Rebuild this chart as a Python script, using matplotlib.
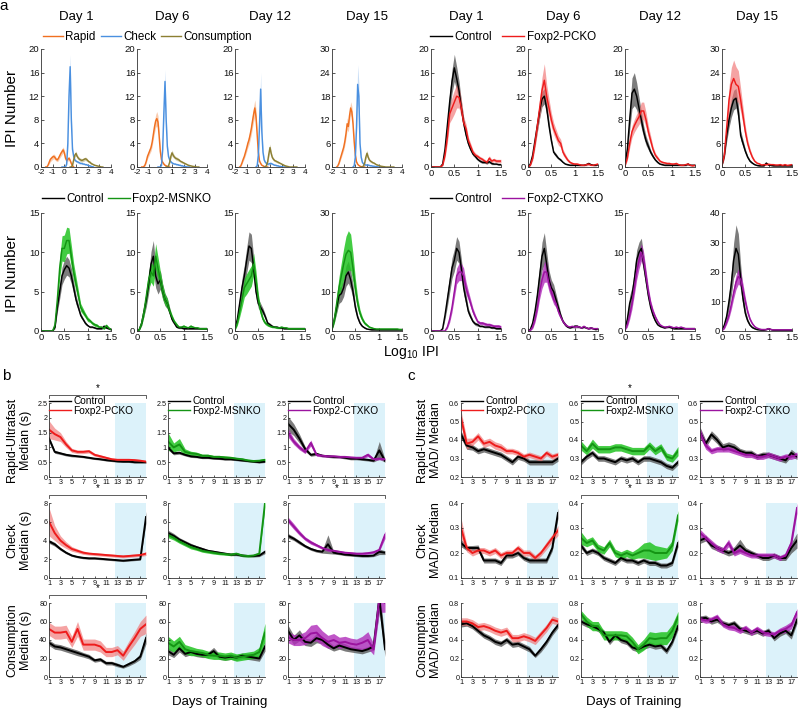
import numpy as np
import matplotlib
matplotlib.use('Agg')
import matplotlib.pyplot as plt
from matplotlib.lines import Line2D
from matplotlib.ticker import FormatStrFormatter

plt.rcParams['font.family'] = ['Liberation Sans', 'DejaVu Sans']
plt.rcParams['mathtext.default'] = 'regular'
plt.rcParams['axes.unicode_minus'] = False

# ====================== DATA ======================
days_a = ['Day 1', 'Day 6', 'Day 12', 'Day 15']
x_rapid = np.round(np.arange(-1.6, 0.81, 0.1), 2)
x_check = np.round(np.arange(-0.2, 2.51, 0.1), 2)
x_cons = np.round(np.arange(0.5, 3.31, 0.1), 2)
x_geno = np.round(np.arange(0, 1.51, 0.05), 2)

# --- Rapid / Check / Consumption IPI distributions ---
rapid_d1 = [0, 0, 0.3, 0.8, 1.3, 1.5, 1.7, 1.8, 1.6, 1.3, 1.2, 1.5, 1.9, 2.3, 2.6, 2.9, 2.4, 1.5, 1.1, 1.3, 1.5, 1.1, 0.6, 0.2, 0]
rapid_d6 = [0, 0, 0.1, 0.4, 1.0, 1.8, 2.3, 2.8, 3.3, 4.2, 5.5, 6.8, 7.8, 8.2, 7.6, 5.2, 2.6, 1.2, 0.8, 0.5, 0.3, 0.2, 0.1, 0, 0]
rapid_d12 = [0, 0.2, 0.7, 1.3, 1.8, 2.5, 3.2, 4.0, 4.6, 5.5, 6.5, 7.8, 9.0, 10.0, 8.5, 5.5, 2.5, 1.0, 0.6, 0.3, 0.2, 0.1, 0, 0, 0]
rapid_d15 = [0, 0.3, 1.0, 2.0, 3.0, 4.0, 5.0, 6.5, 8.5, 11.0, 10.3, 13.0, 15.0, 14.0, 11.0, 6.5, 3.0, 1.3, 0.7, 0.4, 0.2, 0.1, 0, 0, 0]
rapid_d1_sem = [0, 0, 0.1, 0.3, 0.4, 0.4, 0.4, 0.4, 0.4, 0.3, 0.3, 0.4, 0.4, 0.5, 0.5, 0.5, 0.5, 0.4, 0.3, 0.3, 0.3, 0.3, 0.2, 0.1, 0]
rapid_d6_sem = [0, 0, 0.1, 0.2, 0.3, 0.4, 0.5, 0.5, 0.6, 0.7, 0.8, 1.0, 1.1, 1.2, 1.1, 0.9, 0.5, 0.3, 0.2, 0.2, 0.1, 0.1, 0.05, 0, 0]
rapid_d12_sem = [0, 0.1, 0.2, 0.3, 0.4, 0.5, 0.6, 0.7, 0.8, 0.9, 1.0, 1.1, 1.3, 1.4, 1.2, 0.9, 0.5, 0.3, 0.2, 0.1, 0.1, 0.05, 0, 0, 0]
rapid_d15_sem = [0, 0.1, 0.3, 0.5, 0.6, 0.7, 0.8, 1.0, 1.2, 1.5, 1.4, 1.5, 1.6, 1.5, 1.3, 1.0, 0.5, 0.3, 0.2, 0.1, 0.1, 0.05, 0, 0, 0]

check_d1 = [0, 0, 0, 0, 0.5, 4, 12, 17, 8, 3, 1.8, 1.2, 1.0, 0.9, 0.8, 0.7, 0.6, 0.6, 0.5, 0.5, 0.4, 0.4, 0.3, 0.2, 0.2, 0.1, 0.05, 0]
check_d6 = [0, 0, 0, 0.3, 3, 9, 14.5, 8, 3.5, 1.8, 1.2, 0.9, 0.7, 0.6, 0.5, 0.5, 0.4, 0.4, 0.3, 0.3, 0.2, 0.2, 0.1, 0.1, 0.05, 0, 0, 0]
check_d12 = [0, 0.2, 2, 7, 13.2, 6, 2.5, 1.2, 0.8, 0.6, 0.5, 0.5, 0.6, 0.6, 0.5, 0.4, 0.3, 0.3, 0.2, 0.2, 0.1, 0.1, 0.05, 0, 0, 0, 0, 0]
check_d15 = [0, 0.3, 2.5, 10, 21, 18, 6, 2.5, 1.2, 0.8, 0.6, 0.5, 0.5, 0.5, 0.4, 0.3, 0.3, 0.2, 0.2, 0.1, 0.1, 0.05, 0, 0, 0, 0, 0, 0]
check_d1_sem = [0, 0, 0, 0, 0.2, 0.8, 1.5, 2.0, 1.2, 0.5, 0.3, 0.2, 0.2, 0.2, 0.2, 0.2, 0.1, 0.1, 0.1, 0.1, 0.1, 0.1, 0.1, 0.1, 0.05, 0.05, 0, 0]
check_d6_sem = [0, 0, 0, 0.1, 0.6, 1.2, 2.0, 1.2, 0.6, 0.3, 0.2, 0.2, 0.1, 0.1, 0.1, 0.1, 0.1, 0.1, 0.1, 0.1, 0.05, 0.05, 0.05, 0, 0, 0, 0, 0]
check_d12_sem = [0, 0.1, 0.5, 1.5, 2.8, 1.2, 0.5, 0.3, 0.2, 0.2, 0.2, 0.2, 0.2, 0.2, 0.1, 0.1, 0.1, 0.1, 0.05, 0.05, 0.05, 0, 0, 0, 0, 0, 0, 0]
check_d15_sem = [0, 0.1, 0.6, 2.0, 5.0, 3.5, 1.2, 0.5, 0.3, 0.2, 0.2, 0.2, 0.2, 0.2, 0.1, 0.1, 0.1, 0.05, 0.05, 0, 0, 0, 0, 0, 0, 0, 0, 0]

cons_d1 = [0, 0, 0.3, 1.2, 2.0, 2.3, 1.8, 1.5, 1.3, 1.2, 1.1, 1.2, 1.3, 1.4, 1.3, 1.1, 0.9, 0.8, 0.6, 0.5, 0.4, 0.3, 0.25, 0.2, 0.15, 0.1, 0.05, 0, 0]
cons_d6 = [0, 0, 0.2, 0.8, 1.8, 2.4, 2.0, 1.7, 1.5, 1.4, 1.3, 1.2, 1.0, 0.9, 0.8, 0.7, 0.6, 0.5, 0.4, 0.3, 0.25, 0.2, 0.15, 0.1, 0.08, 0.05, 0, 0, 0]
cons_d12 = [0, 0, 0.3, 0.9, 2.2, 3.3, 2.3, 1.6, 1.3, 1.1, 1.0, 0.9, 0.8, 0.7, 0.6, 0.5, 0.4, 0.3, 0.2, 0.15, 0.1, 0.05, 0, 0, 0, 0, 0, 0, 0]
cons_d15 = [0, 0, 0.3, 1.0, 2.5, 3.5, 2.5, 1.8, 1.5, 1.3, 1.1, 1.0, 0.8, 0.6, 0.5, 0.4, 0.3, 0.2, 0.15, 0.1, 0.05, 0, 0, 0, 0, 0, 0, 0, 0]
cons_d1_sem = [0, 0, 0.1, 0.3, 0.4, 0.4, 0.3, 0.3, 0.3, 0.3, 0.3, 0.3, 0.3, 0.3, 0.3, 0.2, 0.2, 0.2, 0.2, 0.1, 0.1, 0.1, 0.1, 0.1, 0.05, 0.05, 0, 0, 0]
cons_d6_sem = [0, 0, 0.1, 0.2, 0.4, 0.5, 0.4, 0.3, 0.3, 0.3, 0.3, 0.2, 0.2, 0.2, 0.2, 0.1, 0.1, 0.1, 0.1, 0.1, 0.05, 0.05, 0.05, 0, 0, 0, 0, 0, 0]
cons_d12_sem = [0, 0, 0.1, 0.3, 0.5, 0.6, 0.4, 0.3, 0.3, 0.2, 0.2, 0.2, 0.2, 0.1, 0.1, 0.1, 0.1, 0.1, 0.05, 0.05, 0, 0, 0, 0, 0, 0, 0, 0, 0]
cons_d15_sem = [0, 0, 0.1, 0.3, 0.6, 0.8, 0.5, 0.4, 0.3, 0.3, 0.2, 0.2, 0.2, 0.1, 0.1, 0.1, 0.1, 0.05, 0.05, 0, 0, 0, 0, 0, 0, 0, 0, 0, 0]

# --- Control vs Foxp2-PCKO ---
pc_ctrl_d1 = [0, 0, 0, 0, 0, 0.5, 3, 7, 11, 14.5, 16.8, 15, 13, 10, 7.5, 5.5, 4, 3, 2.2, 1.8, 1.3, 1.0, 0.8, 0.8, 0.7, 0.9, 0.6, 0.5, 0.5, 0.4, 0.4]
pc_ctrl_d1_sem = [0, 0, 0, 0, 0, 0.2, 0.6, 1.2, 1.6, 2.0, 2.3, 2.0, 1.6, 1.2, 0.9, 0.7, 0.5, 0.4, 0.3, 0.3, 0.2, 0.2, 0.2, 0.2, 0.2, 0.2, 0.2, 0.1, 0.1, 0.1, 0.1]
pc_ko_d1 = [0, 0, 0, 0, 0, 0.3, 2, 5, 9, 10, 11, 12, 11.8, 10, 7.5, 6.5, 4.5, 3.5, 2.5, 2, 1.8, 1.5, 1.3, 1.0, 0.8, 1.5, 1.0, 1.2, 1.0, 1.0, 1.0]
pc_ko_d1_sem = [0, 0, 0, 0, 0, 0.1, 0.5, 1.0, 1.5, 1.8, 2.0, 2.0, 1.8, 1.5, 1.0, 0.8, 0.6, 0.5, 0.4, 0.4, 0.3, 0.3, 0.3, 0.3, 0.3, 0.4, 0.3, 0.3, 0.3, 0.3, 0.3]
pc_ctrl_d6 = [0, 0.5, 2, 4.5, 7, 9.5, 11.5, 12, 10, 7, 4.5, 2.5, 2, 1.5, 1.2, 0.8, 0.5, 0.4, 0.3, 0.3, 0.3, 0.3, 0.3, 0.3, 0.3, 0.4, 0.6, 0.4, 0.3, 0.3, 0.4]
pc_ctrl_d6_sem = [0, 0.2, 0.5, 0.8, 1.0, 1.2, 1.3, 1.3, 1.1, 0.8, 0.5, 0.3, 0.3, 0.2, 0.2, 0.1, 0.1, 0.1, 0.1, 0.1, 0.1, 0.1, 0.1, 0.1, 0.1, 0.1, 0.2, 0.1, 0.1, 0.1, 0.1]
pc_ko_d6 = [0, 0.3, 1.5, 4, 7, 10, 13, 14.7, 12, 10, 8, 6.5, 5.5, 4.5, 4, 2.5, 1.8, 1.2, 0.8, 0.6, 0.5, 0.5, 0.4, 0.3, 0.3, 0.4, 0.5, 0.3, 0.3, 0.4, 0.5]
pc_ko_d6_sem = [0, 0.1, 0.4, 0.8, 1.2, 1.6, 2.2, 2.8, 2.0, 1.5, 1.2, 1.0, 0.9, 0.8, 0.7, 0.5, 0.4, 0.3, 0.2, 0.2, 0.2, 0.2, 0.2, 0.1, 0.1, 0.2, 0.2, 0.1, 0.1, 0.2, 0.2]
pc_ctrl_d12 = [0.5, 3, 8, 12.5, 13.2, 12, 10, 8, 6, 4.5, 3.5, 2.5, 1.8, 1.2, 0.8, 0.5, 0.4, 0.3, 0.3, 0.3, 0.3, 0.3, 0.3, 0.3, 0.3, 0.3, 0.3, 0.5, 0.3, 0.3, 0.3]
pc_ctrl_d12_sem = [0.2, 0.8, 1.8, 2.6, 2.8, 2.3, 1.8, 1.4, 1.0, 0.8, 0.6, 0.4, 0.3, 0.2, 0.2, 0.1, 0.1, 0.1, 0.1, 0.1, 0.1, 0.1, 0.1, 0.1, 0.1, 0.1, 0.1, 0.2, 0.1, 0.1, 0.1]
pc_ko_d12 = [0.2, 1.5, 4, 6, 7, 7.8, 8.5, 9.5, 9.5, 8, 6, 4.5, 3, 2, 1.5, 1.0, 0.8, 0.7, 0.6, 0.6, 0.5, 0.5, 0.6, 0.4, 0.3, 0.3, 0.4, 0.5, 0.3, 0.2, 0.3]
pc_ko_d12_sem = [0.1, 0.4, 0.8, 1.0, 1.1, 1.2, 1.3, 1.5, 1.5, 1.3, 1.0, 0.8, 0.5, 0.4, 0.3, 0.2, 0.2, 0.2, 0.2, 0.2, 0.2, 0.2, 0.2, 0.1, 0.1, 0.1, 0.1, 0.2, 0.1, 0.1, 0.1]
pc_ctrl_d15 = [0.5, 3, 8, 12, 15, 17, 17.5, 14, 8, 6, 4, 2.5, 1.5, 1, 0.6, 0.4, 0.3, 0.3, 0.3, 1.0, 0.5, 0.4, 0.3, 0.3, 0.3, 0.3, 0.3, 0.3, 0.3, 0.3, 0.3]
pc_ctrl_d15_sem = [0.2, 0.8, 1.5, 2.0, 2.3, 2.5, 2.5, 2.0, 1.2, 0.9, 0.6, 0.4, 0.3, 0.2, 0.1, 0.1, 0.1, 0.1, 0.1, 0.2, 0.1, 0.1, 0.1, 0.1, 0.1, 0.1, 0.1, 0.1, 0.1, 0.1, 0.1]
pc_ko_d15 = [0.5, 3, 10, 17, 21, 22.5, 21, 20.5, 17, 13, 9, 6, 4, 2.5, 1.5, 1, 0.8, 0.5, 0.6, 0.6, 0.7, 0.6, 0.6, 0.5, 0.5, 0.6, 0.4, 0.6, 0.4, 0.5, 0.6]
pc_ko_d15_sem = [0.2, 0.8, 2.0, 3.5, 4.3, 4.7, 4.5, 4.0, 3.0, 2.2, 1.5, 1.0, 0.7, 0.5, 0.3, 0.2, 0.2, 0.2, 0.2, 0.2, 0.2, 0.2, 0.2, 0.2, 0.2, 0.2, 0.2, 0.2, 0.2, 0.2, 0.2]

# --- Control vs Foxp2-MSNKO ---
ms_ctrl_d1 = [0, 0, 0, 0, 0, 0, 0.5, 3, 5, 7, 7.8, 8.3, 8, 7, 5.5, 4, 3, 2, 1.5, 1.0, 0.7, 0.5, 0.5, 0.4, 0.3, 0.3, 0.3, 0.6, 0.4, 0.3, 0.2]
ms_ctrl_d1_sem = [0, 0, 0, 0, 0, 0, 0.2, 0.6, 0.9, 1.1, 1.2, 1.2, 1.1, 1.0, 0.8, 0.6, 0.4, 0.3, 0.2, 0.2, 0.1, 0.1, 0.1, 0.1, 0.1, 0.1, 0.1, 0.2, 0.1, 0.1, 0.1]
ms_ko_d1 = [0, 0, 0, 0, 0, 0, 0.8, 4, 8, 10.5, 10.5, 11.5, 11.5, 9.5, 7.5, 6, 4.5, 3, 2.5, 2, 1.5, 1.3, 1.0, 0.8, 0.7, 0.5, 0.5, 0.3, 0.7, 0.4, 0.2]
ms_ko_d1_sem = [0, 0, 0, 0, 0, 0, 0.3, 0.8, 1.3, 1.6, 1.7, 1.7, 1.6, 1.4, 1.1, 0.9, 0.7, 0.5, 0.4, 0.3, 0.3, 0.2, 0.2, 0.2, 0.2, 0.1, 0.1, 0.1, 0.2, 0.1, 0.1]
ms_ctrl_d6 = [0, 0.2, 1, 2.5, 4, 6, 8.5, 9.5, 7, 6, 6.5, 5, 4, 3.5, 2.5, 1.5, 1.0, 0.5, 0.4, 0.4, 0.3, 0.3, 0.3, 0.3, 0.3, 0.3, 0.3, 0.3, 0.3, 0.3, 0.3]
ms_ctrl_d6_sem = [0, 0.1, 0.3, 0.6, 0.9, 1.2, 1.6, 2.0, 1.5, 1.3, 1.2, 1.0, 0.8, 0.7, 0.5, 0.3, 0.2, 0.1, 0.1, 0.1, 0.1, 0.1, 0.1, 0.1, 0.1, 0.1, 0.1, 0.1, 0.1, 0.1, 0.1]
ms_ko_d6 = [0, 0.2, 1, 2.5, 4.5, 6.5, 7.5, 7, 9.5, 8, 6.5, 5, 4, 3.5, 2.5, 1.8, 1.2, 0.8, 0.5, 0.5, 0.6, 0.5, 0.4, 0.6, 0.5, 0.4, 0.4, 0.3, 0.3, 0.3, 0.3]
ms_ko_d6_sem = [0, 0.1, 0.3, 0.6, 0.9, 1.1, 1.3, 1.3, 1.6, 1.4, 1.1, 0.9, 0.7, 0.6, 0.4, 0.3, 0.2, 0.2, 0.1, 0.1, 0.2, 0.1, 0.1, 0.2, 0.1, 0.1, 0.1, 0.1, 0.1, 0.1, 0.1]
ms_ctrl_d12 = [0.3, 1.5, 3.5, 5.5, 7, 9, 10.8, 10.5, 8, 5, 3.5, 3, 2.5, 1.8, 1.0, 0.8, 0.6, 0.5, 0.5, 0.4, 0.4, 0.3, 0.3, 0.3, 0.3, 0.3, 0.3, 0.3, 0.3, 0.3, 0.3]
ms_ctrl_d12_sem = [0.1, 0.5, 0.9, 1.2, 1.4, 1.6, 1.8, 1.8, 1.4, 0.9, 0.6, 0.5, 0.4, 0.3, 0.2, 0.2, 0.1, 0.1, 0.1, 0.1, 0.1, 0.1, 0.1, 0.1, 0.1, 0.1, 0.1, 0.1, 0.1, 0.1, 0.1]
ms_ko_d12 = [0.2, 1, 2.5, 4, 5.5, 6, 6.5, 7, 8.5, 6.5, 4, 2.5, 1.5, 1.0, 0.8, 0.6, 0.5, 0.5, 0.4, 0.4, 0.5, 0.4, 0.4, 0.3, 0.3, 0.3, 0.3, 0.3, 0.3, 0.3, 0.3]
ms_ko_d12_sem = [0.1, 0.3, 0.7, 1.0, 1.2, 1.3, 1.3, 1.3, 1.4, 1.1, 0.7, 0.5, 0.3, 0.2, 0.2, 0.1, 0.1, 0.1, 0.1, 0.1, 0.1, 0.1, 0.1, 0.1, 0.1, 0.1, 0.1, 0.1, 0.1, 0.1, 0.1]
ms_ctrl_d15 = [0.5, 3, 6, 9, 9.5, 11, 14, 15, 13, 10, 6, 3.5, 2, 1.2, 0.8, 0.5, 0.4, 0.3, 0.3, 0.3, 0.3, 0.3, 0.3, 0.3, 0.3, 0.3, 0.3, 0.3, 0.3, 0.3, 0.3]
ms_ctrl_d15_sem = [0.2, 0.8, 1.5, 2.0, 2.0, 2.2, 2.6, 2.8, 2.4, 1.8, 1.1, 0.6, 0.4, 0.2, 0.2, 0.1, 0.1, 0.1, 0.1, 0.1, 0.1, 0.1, 0.1, 0.1, 0.1, 0.1, 0.1, 0.1, 0.1, 0.1, 0.1]
ms_ko_d15 = [0.5, 3, 7, 11, 14, 17, 19.5, 20.5, 20, 16, 11, 7, 4.5, 3, 2, 1.5, 1.0, 0.8, 0.6, 0.5, 0.5, 0.5, 0.5, 0.5, 0.5, 0.5, 0.5, 0.5, 0.5, 0.4, 0.4]
ms_ko_d15_sem = [0.2, 1.0, 2.0, 2.8, 3.4, 4.0, 4.6, 5.0, 4.6, 3.6, 2.4, 1.5, 0.9, 0.6, 0.4, 0.3, 0.2, 0.2, 0.2, 0.2, 0.2, 0.2, 0.2, 0.2, 0.2, 0.2, 0.2, 0.2, 0.2, 0.1, 0.1]

# --- Control vs Foxp2-CTXKO ---
cx_ctrl_d1 = [0, 0, 0, 0, 0, 0.3, 2, 4, 6, 8, 9, 10.5, 10, 8, 5.5, 4, 2.5, 1.8, 1.2, 0.9, 0.8, 0.6, 0.6, 0.5, 0.5, 0.5, 0.4, 0.4, 0.3, 0.3, 0.3]
cx_ctrl_d1_sem = [0, 0, 0, 0, 0, 0.1, 0.5, 0.9, 1.1, 1.3, 1.4, 1.5, 1.4, 1.2, 0.9, 0.7, 0.4, 0.3, 0.2, 0.2, 0.2, 0.1, 0.1, 0.1, 0.1, 0.1, 0.1, 0.1, 0.1, 0.1, 0.1]
cx_ko_d1 = [0, 0, 0, 0, 0, 0, 0, 0.5, 1.5, 3, 5, 7, 7.5, 7.5, 7, 5.5, 4.5, 3.5, 2.5, 1.8, 1.2, 1.0, 1.0, 0.9, 0.8, 0.8, 0.7, 0.6, 0.6, 0.6, 0.5]
cx_ko_d1_sem = [0, 0, 0, 0, 0, 0, 0, 0.2, 0.4, 0.6, 0.8, 1.0, 1.1, 1.1, 1.0, 0.8, 0.6, 0.5, 0.4, 0.3, 0.2, 0.2, 0.2, 0.2, 0.2, 0.2, 0.2, 0.2, 0.2, 0.2, 0.2]
cx_ctrl_d6 = [0, 0.2, 1, 2.5, 4.5, 7, 9.5, 10.5, 8.5, 6.5, 5.5, 5, 4, 3, 2, 1.2, 0.8, 0.5, 0.4, 0.5, 0.6, 0.6, 0.5, 0.4, 0.5, 0.4, 0.3, 0.4, 0.3, 0.2, 0.3]
cx_ctrl_d6_sem = [0, 0.1, 0.3, 0.6, 1.0, 1.4, 1.8, 2.0, 1.6, 1.2, 1.0, 0.9, 0.7, 0.5, 0.3, 0.2, 0.2, 0.1, 0.1, 0.1, 0.2, 0.2, 0.1, 0.1, 0.1, 0.1, 0.1, 0.1, 0.1, 0.1, 0.1]
cx_ko_d6 = [0, 0.1, 0.5, 1.5, 3, 5, 6.5, 7.5, 7.5, 6, 5, 4, 3.5, 2.5, 1.8, 1.2, 0.8, 0.6, 0.5, 0.6, 0.5, 0.6, 0.5, 0.4, 0.6, 0.4, 0.3, 0.4, 0.3, 0.3, 0.3]
cx_ko_d6_sem = [0, 0.05, 0.2, 0.4, 0.6, 0.9, 1.1, 1.3, 1.3, 1.0, 0.8, 0.6, 0.5, 0.4, 0.3, 0.2, 0.2, 0.1, 0.1, 0.1, 0.1, 0.1, 0.1, 0.1, 0.1, 0.1, 0.1, 0.1, 0.1, 0.1, 0.1]
cx_ctrl_d12 = [0.2, 1.5, 3.5, 4.5, 6.5, 9, 10, 10.5, 8.5, 6.5, 4.5, 3, 2, 1.3, 0.8, 0.6, 0.5, 0.4, 0.5, 0.5, 0.4, 0.3, 0.3, 0.3, 0.3, 0.3, 0.3, 0.3, 0.3, 0.3, 0.3]
cx_ctrl_d12_sem = [0.1, 0.6, 1.0, 1.1, 1.2, 1.3, 1.3, 1.3, 1.1, 0.9, 0.6, 0.4, 0.3, 0.2, 0.1, 0.1, 0.1, 0.1, 0.1, 0.1, 0.1, 0.1, 0.1, 0.1, 0.1, 0.1, 0.1, 0.1, 0.1, 0.1, 0.1]
cx_ko_d12 = [0.2, 0.8, 2, 3.5, 5.5, 7.5, 9, 10, 9, 7, 5, 3.5, 2.5, 1.8, 1.2, 0.8, 0.6, 0.5, 0.5, 0.6, 0.5, 0.4, 0.5, 0.4, 0.5, 0.4, 0.3, 0.3, 0.3, 0.3, 0.3]
cx_ko_d12_sem = [0.1, 0.3, 0.5, 0.7, 0.9, 1.0, 1.1, 1.1, 1.0, 0.8, 0.6, 0.4, 0.3, 0.2, 0.2, 0.1, 0.1, 0.1, 0.1, 0.1, 0.1, 0.1, 0.1, 0.1, 0.1, 0.1, 0.1, 0.1, 0.1, 0.1, 0.1]
cx_ctrl_d15 = [0.3, 2, 5, 10, 16, 24, 28, 26, 18, 11, 6, 3.5, 2, 1.2, 0.8, 0.5, 0.4, 0.3, 0.3, 0.5, 0.8, 0.5, 0.3, 0.3, 0.3, 0.3, 0.3, 0.3, 0.3, 0.3, 0.3]
cx_ctrl_d15_sem = [0.1, 0.7, 1.5, 2.5, 4, 6, 8, 7, 4.5, 2.5, 1.3, 0.7, 0.4, 0.3, 0.2, 0.1, 0.1, 0.1, 0.1, 0.1, 0.2, 0.1, 0.1, 0.1, 0.1, 0.1, 0.1, 0.1, 0.1, 0.1, 0.1]
cx_ko_d15 = [0.2, 1, 3, 5.5, 9, 13, 16.5, 18.5, 17.5, 14, 10, 6.5, 4, 2.5, 1.5, 1, 0.7, 0.5, 0.5, 0.5, 0.8, 0.5, 0.4, 0.4, 0.4, 0.4, 0.4, 0.4, 0.4, 0.4, 0.4]
cx_ko_d15_sem = [0.1, 0.3, 0.7, 1.1, 1.6, 2.0, 2.4, 2.6, 2.4, 2.0, 1.4, 0.9, 0.6, 0.4, 0.3, 0.2, 0.1, 0.1, 0.1, 0.1, 0.2, 0.1, 0.1, 0.1, 0.1, 0.1, 0.1, 0.1, 0.1, 0.1, 0.1]

# --- Panel b: medians over days of training ---
days = list(range(1, 19))
b_rapid_pc_ctrl = [1.3, 0.85, 0.8, 0.75, 0.72, 0.7, 0.68, 0.65, 0.62, 0.6, 0.57, 0.55, 0.53, 0.52, 0.52, 0.5, 0.5, 0.5]
b_rapid_pc_ctrl_sem = [0.08, 0.05, 0.04, 0.04, 0.04, 0.03, 0.03, 0.03, 0.03, 0.03, 0.03, 0.03, 0.03, 0.03, 0.03, 0.03, 0.03, 0.03]
b_rapid_pc_ko = [1.6, 1.45, 1.35, 1.1, 0.9, 0.85, 0.85, 0.87, 0.75, 0.7, 0.65, 0.6, 0.58, 0.58, 0.58, 0.57, 0.55, 0.52]
b_rapid_pc_ko_sem = [0.3, 0.2, 0.15, 0.1, 0.07, 0.06, 0.06, 0.06, 0.05, 0.05, 0.04, 0.04, 0.04, 0.04, 0.04, 0.04, 0.04, 0.04]
b_rapid_ms_ctrl = [1.0, 0.8, 0.82, 0.75, 0.7, 0.68, 0.65, 0.65, 0.63, 0.62, 0.6, 0.6, 0.58, 0.56, 0.54, 0.52, 0.5, 0.52]
b_rapid_ms_ctrl_sem = [0.08, 0.05, 0.05, 0.04, 0.04, 0.03, 0.03, 0.03, 0.03, 0.03, 0.03, 0.03, 0.03, 0.03, 0.03, 0.03, 0.03, 0.03]
b_rapid_ms_ko = [1.2, 1.0, 1.1, 0.85, 0.8, 0.78, 0.72, 0.72, 0.68, 0.68, 0.66, 0.65, 0.62, 0.6, 0.56, 0.54, 0.55, 0.58]
b_rapid_ms_ko_sem = [0.3, 0.15, 0.2, 0.1, 0.07, 0.06, 0.05, 0.05, 0.05, 0.05, 0.05, 0.04, 0.04, 0.04, 0.04, 0.04, 0.04, 0.05]
b_rapid_cx_ctrl = [1.8, 1.6, 1.3, 0.95, 0.75, 0.78, 0.72, 0.7, 0.68, 0.68, 0.65, 0.62, 0.62, 0.6, 0.58, 0.55, 0.9, 0.55]
b_rapid_cx_ctrl_sem = [0.25, 0.2, 0.15, 0.08, 0.05, 0.05, 0.04, 0.04, 0.04, 0.04, 0.04, 0.04, 0.04, 0.04, 0.04, 0.04, 0.3, 0.05]
b_rapid_cx_ko = [1.5, 1.2, 1.0, 0.85, 1.15, 0.75, 0.72, 0.7, 0.7, 0.68, 0.68, 0.66, 0.65, 0.65, 0.75, 0.6, 0.62, 0.6]
b_rapid_cx_ko_sem = [0.15, 0.1, 0.08, 0.06, 0.1, 0.05, 0.04, 0.04, 0.04, 0.04, 0.04, 0.04, 0.04, 0.04, 0.06, 0.04, 0.04, 0.04]

b_check_pc_ctrl = [3.9, 3.6, 3.1, 2.7, 2.4, 2.25, 2.15, 2.1, 2.1, 2.05, 2.0, 1.95, 1.9, 1.85, 1.9, 1.95, 2.0, 6.5]
b_check_pc_ctrl_sem = [0.2, 0.2, 0.15, 0.12, 0.1, 0.1, 0.1, 0.1, 0.1, 0.1, 0.1, 0.1, 0.1, 0.1, 0.1, 0.1, 0.1, 0.6]
b_check_pc_ko = [6.0, 4.8, 4.0, 3.5, 3.1, 2.9, 2.7, 2.6, 2.55, 2.5, 2.45, 2.4, 2.35, 2.3, 2.35, 2.4, 2.45, 2.6]
b_check_pc_ko_sem = [1.5, 0.8, 0.5, 0.35, 0.25, 0.2, 0.18, 0.15, 0.15, 0.15, 0.15, 0.15, 0.15, 0.15, 0.15, 0.15, 0.15, 0.2]
b_check_ms_ctrl = [4.8, 4.5, 4.1, 3.8, 3.5, 3.3, 3.1, 2.9, 2.8, 2.7, 2.6, 2.5, 2.5, 2.4, 2.35, 2.35, 2.4, 2.8]
b_check_ms_ctrl_sem = [0.3, 0.25, 0.2, 0.2, 0.2, 0.15, 0.15, 0.15, 0.15, 0.12, 0.12, 0.12, 0.12, 0.12, 0.12, 0.12, 0.12, 0.2]
b_check_ms_ko = [4.6, 4.3, 3.9, 3.6, 3.3, 3.1, 2.9, 2.8, 2.7, 2.6, 2.55, 2.5, 2.6, 2.4, 2.35, 2.4, 2.6, 8.0]
b_check_ms_ko_sem = [0.3, 0.25, 0.2, 0.2, 0.2, 0.15, 0.15, 0.15, 0.15, 0.12, 0.12, 0.12, 0.12, 0.12, 0.12, 0.12, 0.15, 0.4]
b_check_cx_ctrl = [4.5, 4.2, 3.8, 3.4, 3.1, 2.9, 2.8, 3.6, 2.7, 2.6, 2.5, 2.45, 2.4, 2.35, 2.35, 2.4, 2.8, 2.7]
b_check_cx_ctrl_sem = [0.25, 0.2, 0.2, 0.15, 0.15, 0.15, 0.15, 1.0, 0.15, 0.12, 0.12, 0.12, 0.12, 0.12, 0.12, 0.12, 0.3, 0.2]
b_check_cx_ko = [6.2, 5.5, 4.8, 4.2, 3.8, 3.5, 3.2, 3.0, 2.9, 2.8, 2.7, 2.65, 2.6, 2.6, 2.65, 2.75, 3.0, 4.6]
b_check_cx_ko_sem = [0.3, 0.3, 0.25, 0.2, 0.2, 0.15, 0.15, 0.15, 0.15, 0.12, 0.12, 0.12, 0.12, 0.12, 0.12, 0.12, 0.15, 0.4]

b_cons_pc_ctrl = [37, 33, 32, 30, 28, 26, 24, 22, 18, 19, 15, 15, 13, 11, 14, 17, 22, 42]
b_cons_pc_ctrl_sem = [3, 3, 3, 3, 3, 3, 2.5, 2.5, 2, 2, 2, 2, 2, 1.5, 2, 2, 3, 6]
b_cons_pc_ko = [52, 48, 48, 49, 38, 52, 35, 35, 35, 33, 27, 27, 29, 23, 33, 42, 52, 57]
b_cons_pc_ko_sem = [7, 7, 7, 7, 6, 8, 6, 6, 6, 6, 5, 5, 5, 5, 6, 7, 8, 10]
b_cons_ms_ctrl = [28, 24, 31, 25, 27, 25, 24, 24, 28, 22, 21, 22, 21, 23, 22, 21, 20, 33]
b_cons_ms_ctrl_sem = [4, 3, 4, 3, 3, 3, 3, 3, 4, 3, 3, 3, 3, 3, 3, 3, 3, 5]
b_cons_ms_ko = [37, 33, 38, 30, 28, 27, 26, 24, 23, 23, 22, 23, 21, 22, 23, 24, 27, 48]
b_cons_ms_ko_sem = [7, 6, 6, 5, 5, 4, 4, 4, 4, 4, 4, 4, 4, 4, 4, 4, 5, 10]
b_cons_cx_ctrl = [50, 40, 45, 38, 37, 42, 40, 35, 31, 34, 32, 30, 29, 28, 30, 33, 85, 30]
b_cons_cx_ctrl_sem = [6, 5, 6, 4, 4, 5, 4, 4, 3, 4, 4, 3, 3, 3, 3, 4, 15, 8]
b_cons_cx_ko = [43, 40, 40, 42, 47, 48, 42, 38, 40, 37, 38, 36, 35, 37, 40, 30, 85, 80]
b_cons_cx_ko_sem = [6, 6, 6, 7, 9, 9, 8, 7, 7, 6, 6, 6, 6, 7, 9, 6, 15, 10]

# --- Panel c: MAD / median over days of training ---
c_rapid_pc_ctrl = [0.43, 0.37, 0.36, 0.34, 0.35, 0.34, 0.33, 0.32, 0.3, 0.28, 0.31, 0.3, 0.28, 0.28, 0.28, 0.28, 0.28, 0.3]
c_rapid_pc_ctrl_sem = [0.02, 0.02, 0.015, 0.015, 0.015, 0.015, 0.015, 0.015, 0.015, 0.015, 0.015, 0.015, 0.015, 0.015, 0.015, 0.015, 0.015, 0.015]
c_rapid_pc_ko = [0.52, 0.38, 0.39, 0.42, 0.38, 0.39, 0.37, 0.36, 0.34, 0.34, 0.33, 0.31, 0.32, 0.31, 0.3, 0.33, 0.31, 0.32]
c_rapid_pc_ko_sem = [0.04, 0.03, 0.02, 0.02, 0.02, 0.02, 0.02, 0.02, 0.015, 0.015, 0.015, 0.015, 0.015, 0.015, 0.015, 0.015, 0.015, 0.015]
c_rapid_ms_ctrl = [0.28, 0.31, 0.33, 0.3, 0.3, 0.29, 0.28, 0.3, 0.29, 0.3, 0.28, 0.3, 0.3, 0.29, 0.28, 0.26, 0.25, 0.28]
c_rapid_ms_ctrl_sem = [0.015, 0.015, 0.015, 0.015, 0.015, 0.015, 0.015, 0.015, 0.015, 0.015, 0.015, 0.015, 0.015, 0.015, 0.015, 0.015, 0.015, 0.015]
c_rapid_ms_ko = [0.37, 0.34, 0.38, 0.35, 0.35, 0.35, 0.36, 0.36, 0.35, 0.34, 0.34, 0.34, 0.37, 0.34, 0.36, 0.31, 0.3, 0.34]
c_rapid_ms_ko_sem = [0.025, 0.02, 0.025, 0.02, 0.02, 0.02, 0.02, 0.02, 0.02, 0.02, 0.02, 0.02, 0.02, 0.02, 0.02, 0.02, 0.02, 0.025]
c_rapid_cx_ctrl = [0.44, 0.38, 0.43, 0.4, 0.36, 0.37, 0.36, 0.34, 0.33, 0.33, 0.31, 0.32, 0.32, 0.31, 0.3, 0.29, 0.33, 0.31]
c_rapid_cx_ctrl_sem = [0.03, 0.02, 0.02, 0.02, 0.02, 0.02, 0.02, 0.015, 0.015, 0.015, 0.015, 0.015, 0.015, 0.015, 0.015, 0.015, 0.02, 0.015]
c_rapid_cx_ko = [0.44, 0.37, 0.34, 0.35, 0.35, 0.35, 0.34, 0.33, 0.32, 0.32, 0.31, 0.31, 0.32, 0.31, 0.3, 0.31, 0.31, 0.32]
c_rapid_cx_ko_sem = [0.025, 0.02, 0.015, 0.015, 0.015, 0.015, 0.015, 0.015, 0.015, 0.015, 0.015, 0.015, 0.015, 0.015, 0.015, 0.015, 0.015, 0.015]

c_check_pc_ctrl = [0.24, 0.22, 0.22, 0.22, 0.17, 0.17, 0.17, 0.16, 0.19, 0.19, 0.2, 0.18, 0.17, 0.17, 0.17, 0.17, 0.22, 0.36]
c_check_pc_ctrl_sem = [0.015, 0.01, 0.01, 0.012, 0.01, 0.01, 0.01, 0.01, 0.01, 0.01, 0.01, 0.01, 0.01, 0.01, 0.01, 0.01, 0.012, 0.02]
c_check_pc_ko = [0.3, 0.22, 0.2, 0.21, 0.21, 0.2, 0.21, 0.19, 0.2, 0.2, 0.22, 0.2, 0.2, 0.18, 0.2, 0.23, 0.26, 0.29]
c_check_pc_ko_sem = [0.04, 0.015, 0.012, 0.012, 0.012, 0.012, 0.012, 0.012, 0.012, 0.012, 0.012, 0.012, 0.012, 0.012, 0.012, 0.015, 0.015, 0.02]
c_check_ms_ctrl = [0.23, 0.2, 0.21, 0.2, 0.18, 0.17, 0.16, 0.18, 0.17, 0.17, 0.16, 0.17, 0.16, 0.16, 0.15, 0.15, 0.16, 0.24]
c_check_ms_ctrl_sem = [0.012, 0.01, 0.01, 0.01, 0.01, 0.01, 0.01, 0.01, 0.01, 0.01, 0.01, 0.01, 0.01, 0.01, 0.01, 0.01, 0.01, 0.015]
c_check_ms_ko = [0.26, 0.24, 0.25, 0.22, 0.21, 0.24, 0.2, 0.19, 0.2, 0.19, 0.2, 0.21, 0.21, 0.2, 0.2, 0.2, 0.23, 0.35]
c_check_ms_ko_sem = [0.025, 0.015, 0.015, 0.015, 0.015, 0.015, 0.015, 0.015, 0.015, 0.015, 0.02, 0.03, 0.035, 0.03, 0.025, 0.02, 0.02, 0.02]
c_check_cx_ctrl = [0.25, 0.26, 0.23, 0.22, 0.21, 0.2, 0.21, 0.23, 0.21, 0.2, 0.19, 0.18, 0.18, 0.19, 0.18, 0.18, 0.22, 0.25]
c_check_cx_ctrl_sem = [0.012, 0.012, 0.012, 0.012, 0.012, 0.012, 0.015, 0.025, 0.012, 0.01, 0.01, 0.01, 0.01, 0.01, 0.01, 0.01, 0.02, 0.03]
c_check_cx_ko = [0.28, 0.26, 0.24, 0.22, 0.21, 0.24, 0.2, 0.21, 0.2, 0.19, 0.19, 0.19, 0.19, 0.19, 0.18, 0.19, 0.24, 0.38]
c_check_cx_ko_sem = [0.015, 0.012, 0.012, 0.012, 0.012, 0.015, 0.012, 0.012, 0.012, 0.01, 0.01, 0.01, 0.01, 0.01, 0.01, 0.01, 0.015, 0.02]

c_cons_pc_ctrl = [0.57, 0.58, 0.55, 0.5, 0.45, 0.42, 0.38, 0.36, 0.4, 0.35, 0.36, 0.33, 0.3, 0.23, 0.3, 0.38, 0.48, 0.56]
c_cons_pc_ctrl_sem = [0.03, 0.03, 0.03, 0.03, 0.03, 0.03, 0.03, 0.03, 0.03, 0.03, 0.03, 0.03, 0.03, 0.02, 0.03, 0.03, 0.03, 0.03]
c_cons_pc_ko = [0.6, 0.6, 0.58, 0.54, 0.55, 0.53, 0.5, 0.48, 0.5, 0.42, 0.42, 0.44, 0.42, 0.39, 0.46, 0.53, 0.62, 0.6]
c_cons_pc_ko_sem = [0.04, 0.04, 0.04, 0.04, 0.04, 0.04, 0.04, 0.04, 0.04, 0.04, 0.04, 0.04, 0.04, 0.04, 0.04, 0.04, 0.04, 0.04]
c_cons_ms_ctrl = [0.6, 0.57, 0.55, 0.52, 0.48, 0.38, 0.45, 0.4, 0.38, 0.32, 0.3, 0.33, 0.35, 0.33, 0.34, 0.28, 0.38, 0.55]
c_cons_ms_ctrl_sem = [0.03, 0.03, 0.03, 0.03, 0.03, 0.03, 0.03, 0.03, 0.03, 0.03, 0.03, 0.03, 0.03, 0.03, 0.03, 0.03, 0.03, 0.04]
c_cons_ms_ko = [0.68, 0.6, 0.55, 0.55, 0.45, 0.45, 0.45, 0.45, 0.44, 0.38, 0.3, 0.35, 0.42, 0.41, 0.42, 0.42, 0.5, 0.65]
c_cons_ms_ko_sem = [0.04, 0.05, 0.05, 0.05, 0.05, 0.05, 0.05, 0.05, 0.05, 0.05, 0.05, 0.06, 0.07, 0.07, 0.07, 0.07, 0.07, 0.06]
c_cons_cx_ctrl = [0.63, 0.64, 0.6, 0.62, 0.58, 0.56, 0.58, 0.52, 0.5, 0.48, 0.5, 0.47, 0.5, 0.42, 0.47, 0.5, 0.45, 0.62]
c_cons_cx_ctrl_sem = [0.03, 0.03, 0.03, 0.03, 0.03, 0.03, 0.03, 0.03, 0.03, 0.03, 0.03, 0.03, 0.03, 0.03, 0.03, 0.03, 0.04, 0.04]
c_cons_cx_ko = [0.63, 0.61, 0.62, 0.65, 0.57, 0.54, 0.53, 0.5, 0.53, 0.48, 0.52, 0.48, 0.47, 0.46, 0.5, 0.52, 0.56, 0.7]
c_cons_cx_ko_sem = [0.03, 0.03, 0.03, 0.03, 0.03, 0.03, 0.03, 0.03, 0.03, 0.03, 0.03, 0.03, 0.03, 0.03, 0.03, 0.04, 0.04, 0.04]

# ====================== STYLE ======================
W, H = 799, 708
fig = plt.figure(figsize=(W / 100, H / 100), dpi=100)

C_ORANGE, C_BLUE, C_OLIVE = '#f07020', '#4a90e0', '#8c7f32'
C_BLACK, C_BLACK_F = '#000000', '#505050'
GENO = {'pc': ('#ee1c1c', '#f07272', 0.65),
        'ms': ('#149414', '#22c422', 0.85),
        'cx': ('#9b139f', '#b02cba', 0.8)}
SPINE = '#333333'


def px_axes(left, top, width, height):
    return fig.add_axes([left / W, 1 - (top + height) / H, width / W, height / H])


def ftext(x, y, s, **kw):
    fig.text(x / W, 1 - y / H, s, **kw)


def style(ax, fs, tl=2.0, xfs=None):
    for sp in ('top', 'right'):
        ax.spines[sp].set_visible(False)
    for sp in ('left', 'bottom'):
        ax.spines[sp].set_color(SPINE)
        ax.spines[sp].set_linewidth(0.6)
    ax.tick_params(direction='in', length=tl, width=0.5, labelsize=fs, pad=1.2,
                   colors='#111111')
    if xfs is not None:
        ax.tick_params(axis='x', labelsize=xfs)


def band(ax, x, m, s, lc, fc, alpha, lw):
    m = np.asarray(m, float)
    s = np.asarray(s, float)
    ax.fill_between(x, m - s, m + s, color=fc, alpha=alpha, lw=0)
    ax.plot(x, m, color=lc, lw=lw)


# ====================== PANEL a ======================
cols_a = [41, 137, 235, 332, 431, 528, 625, 722]
AW, AH = 70, 118
rows_a_top = [49, 213]

rapid_m = [rapid_d1, rapid_d6, rapid_d12, rapid_d15]
rapid_s = [rapid_d1_sem, rapid_d6_sem, rapid_d12_sem, rapid_d15_sem]
check_m = [check_d1, check_d6, check_d12, check_d15]
check_s = [check_d1_sem, check_d6_sem, check_d12_sem, check_d15_sem]
cons_m = [cons_d1, cons_d6, cons_d12, cons_d15]
cons_s = [cons_d1_sem, cons_d6_sem, cons_d12_sem, cons_d15_sem]

geno_a = {
    'pc': ([pc_ctrl_d1, pc_ctrl_d6, pc_ctrl_d12, pc_ctrl_d15],
           [pc_ctrl_d1_sem, pc_ctrl_d6_sem, pc_ctrl_d12_sem, pc_ctrl_d15_sem],
           [pc_ko_d1, pc_ko_d6, pc_ko_d12, pc_ko_d15],
           [pc_ko_d1_sem, pc_ko_d6_sem, pc_ko_d12_sem, pc_ko_d15_sem]),
    'ms': ([ms_ctrl_d1, ms_ctrl_d6, ms_ctrl_d12, ms_ctrl_d15],
           [ms_ctrl_d1_sem, ms_ctrl_d6_sem, ms_ctrl_d12_sem, ms_ctrl_d15_sem],
           [ms_ko_d1, ms_ko_d6, ms_ko_d12, ms_ko_d15],
           [ms_ko_d1_sem, ms_ko_d6_sem, ms_ko_d12_sem, ms_ko_d15_sem]),
    'cx': ([cx_ctrl_d1, cx_ctrl_d6, cx_ctrl_d12, cx_ctrl_d15],
           [cx_ctrl_d1_sem, cx_ctrl_d6_sem, cx_ctrl_d12_sem, cx_ctrl_d15_sem],
           [cx_ko_d1, cx_ko_d6, cx_ko_d12, cx_ko_d15],
           [cx_ko_d1_sem, cx_ko_d6_sem, cx_ko_d12_sem, cx_ko_d15_sem]),
}
ylim_a = {'top_left': [(20, 4)] * 3 + [(30, 6)],
          'pc': [(20, 4)] * 3 + [(30, 6)],
          'ms': [(15, 5)] * 3 + [(30, 10)],
          'cx': [(15, 5)] * 3 + [(40, 10)]}

TICK_A = 6.8
LW_A = 1.05

# top-left: behavioural IPI classes
for i in range(4):
    ax = px_axes(cols_a[i], rows_a_top[0], AW, AH)
    style(ax, TICK_A, xfs=6.0)
    band(ax, x_rapid, rapid_m[i], rapid_s[i], C_ORANGE, C_ORANGE, 0.35, LW_A)
    band(ax, x_check, check_m[i], check_s[i], C_BLUE, C_BLUE, 0.3, LW_A)
    band(ax, x_cons, cons_m[i], cons_s[i], C_OLIVE, C_OLIVE, 0.35, LW_A)
    ymax, ystep = ylim_a['top_left'][i]
    ax.set_xlim(-2, 4)
    ax.set_ylim(0, ymax)
    ax.set_xticks(range(-2, 5))
    ax.set_yticks(np.arange(0, ymax + 0.1, ystep))
    ax.yaxis.set_major_formatter(FormatStrFormatter('%g'))


def geno_row(key, col0, top):
    cm, cs, km, ks = geno_a[key]
    lc, fc, al = GENO[key]
    for i in range(4):
        ax = px_axes(cols_a[col0 + i], top, AW, AH)
        style(ax, TICK_A)
        band(ax, x_geno, cm[i], cs[i], C_BLACK, C_BLACK_F, 0.75, LW_A)
        band(ax, x_geno, km[i], ks[i], lc, fc, al, LW_A)
        ymax, ystep = ylim_a[key][i]
        ax.set_xlim(0, 1.5)
        ax.set_ylim(0, ymax)
        ax.set_xticks([0, 0.5, 1, 1.5])
        ax.xaxis.set_major_formatter(FormatStrFormatter('%g'))
        ax.set_yticks(np.arange(0, ymax + 0.1, ystep))
        ax.yaxis.set_major_formatter(FormatStrFormatter('%g'))


geno_row('pc', 4, rows_a_top[0])
geno_row('ms', 0, rows_a_top[1])
geno_row('cx', 4, rows_a_top[1])

for i, d in enumerate(days_a):
    ftext(cols_a[i] + AW / 2, 17, d, ha='center', va='center', fontsize=9.5)
    ftext(cols_a[4 + i] + AW / 2, 17, d, ha='center', va='center', fontsize=9.5)

ftext(4, 6, 'a', ha='center', va='center', fontsize=11)
ftext(12, 108, 'IPI Number', rotation=90, ha='center', va='center', fontsize=11)
ftext(12, 273, 'IPI Number', rotation=90, ha='center', va='center', fontsize=11)
ftext(411, 352, r'Log$_{10}$ IPI', ha='center', va='center', fontsize=10)


def fig_legend(x, y, labels, colors, hl, cs):
    hs = [Line2D([0], [0], color=c, lw=1.0) for c in colors]
    fig.legend(hs, labels, loc='center left', bbox_to_anchor=(x / W, 1 - y / H),
               ncol=len(labels), frameon=False, borderpad=0, borderaxespad=0,
               handlelength=hl, handletextpad=0.2, columnspacing=cs, fontsize=8.4)


fig_legend(43, 37, ['Rapid', 'Check', 'Consumption'], [C_ORANGE, C_BLUE, C_OLIVE], 1.7, 0.45)
fig_legend(430, 37, ['Control', 'Foxp2-PCKO'], [C_BLACK, GENO['pc'][0]], 1.9, 0.85)
fig_legend(42, 199, ['Control', 'Foxp2-MSNKO'], [C_BLACK, GENO['ms'][0]], 1.9, 0.3)
fig_legend(430, 199, ['Control', 'Foxp2-CTXKO'], [C_BLACK, GENO['cx'][0]], 1.9, 0.85)

# ====================== PANELS b & c ======================
cols_b = [49, 168, 288]
cols_c = [461, 581, 700]
BW = 97
rows_bc = [(403, 74), (503, 75), (603, 74)]
TICK_B = 5.2
LW_B = 1.4

b_data = {
    ('rapid', 'pc'): (b_rapid_pc_ctrl, b_rapid_pc_ctrl_sem, b_rapid_pc_ko, b_rapid_pc_ko_sem),
    ('rapid', 'ms'): (b_rapid_ms_ctrl, b_rapid_ms_ctrl_sem, b_rapid_ms_ko, b_rapid_ms_ko_sem),
    ('rapid', 'cx'): (b_rapid_cx_ctrl, b_rapid_cx_ctrl_sem, b_rapid_cx_ko, b_rapid_cx_ko_sem),
    ('check', 'pc'): (b_check_pc_ctrl, b_check_pc_ctrl_sem, b_check_pc_ko, b_check_pc_ko_sem),
    ('check', 'ms'): (b_check_ms_ctrl, b_check_ms_ctrl_sem, b_check_ms_ko, b_check_ms_ko_sem),
    ('check', 'cx'): (b_check_cx_ctrl, b_check_cx_ctrl_sem, b_check_cx_ko, b_check_cx_ko_sem),
    ('cons', 'pc'): (b_cons_pc_ctrl, b_cons_pc_ctrl_sem, b_cons_pc_ko, b_cons_pc_ko_sem),
    ('cons', 'ms'): (b_cons_ms_ctrl, b_cons_ms_ctrl_sem, b_cons_ms_ko, b_cons_ms_ko_sem),
    ('cons', 'cx'): (b_cons_cx_ctrl, b_cons_cx_ctrl_sem, b_cons_cx_ko, b_cons_cx_ko_sem),
}
c_data = {
    ('rapid', 'pc'): (c_rapid_pc_ctrl, c_rapid_pc_ctrl_sem, c_rapid_pc_ko, c_rapid_pc_ko_sem),
    ('rapid', 'ms'): (c_rapid_ms_ctrl, c_rapid_ms_ctrl_sem, c_rapid_ms_ko, c_rapid_ms_ko_sem),
    ('rapid', 'cx'): (c_rapid_cx_ctrl, c_rapid_cx_ctrl_sem, c_rapid_cx_ko, c_rapid_cx_ko_sem),
    ('check', 'pc'): (c_check_pc_ctrl, c_check_pc_ctrl_sem, c_check_pc_ko, c_check_pc_ko_sem),
    ('check', 'ms'): (c_check_ms_ctrl, c_check_ms_ctrl_sem, c_check_ms_ko, c_check_ms_ko_sem),
    ('check', 'cx'): (c_check_cx_ctrl, c_check_cx_ctrl_sem, c_check_cx_ko, c_check_cx_ko_sem),
    ('cons', 'pc'): (c_cons_pc_ctrl, c_cons_pc_ctrl_sem, c_cons_pc_ko, c_cons_pc_ko_sem),
    ('cons', 'ms'): (c_cons_ms_ctrl, c_cons_ms_ctrl_sem, c_cons_ms_ko, c_cons_ms_ko_sem),
    ('cons', 'cx'): (c_cons_cx_ctrl, c_cons_cx_ctrl_sem, c_cons_cx_ko, c_cons_cx_ko_sem),
}
measures = ['rapid', 'check', 'cons']
genos = ['pc', 'ms', 'cx']
ko_names = {'pc': 'Foxp2-PCKO', 'ms': 'Foxp2-MSNKO', 'cx': 'Foxp2-CTXKO'}
b_ylims = [(0, 2.5, 0.5), (0, 8, 2), (0, 80, 20)]
c_ylims = [(0.2, 0.6, 0.1), (0.1, 0.4, 0.1), (0, 0.8, 0.2)]
b_stars = [('rapid', 'pc'), ('check', 'pc'), ('check', 'cx'), ('cons', 'pc')]
c_stars = [('rapid', 'ms'), ('check', 'ms')]
b_labels = ['Rapid-Ultrafast\nMedian (s)', 'Check\nMedian (s)', 'Consumption\nMedian (s)']
c_labels = ['Rapid-Ultrafast\nMAD/ Median', 'Check\nMAD/ Median', 'Consumption\nMAD/ Median']


def bracket(ax, hpx):
    yb = 1 + 8 / hpx
    yt = yb - 3 / hpx
    ax.plot([1, 1, 18, 18], [yt, yb, yb, yt], color='#444444', lw=0.6,
            transform=ax.get_xaxis_transform(), clip_on=False)
    ax.text(9.5, yb + 2 / hpx, '*', transform=ax.get_xaxis_transform(),
            ha='center', va='bottom', fontsize=7)


def draw_block(cols, data, ylims, stars):
    for r, meas in enumerate(measures):
        top, hpx = rows_bc[r]
        y0, y1, ys = ylims[r]
        for c, g in enumerate(genos):
            ax = px_axes(cols[c], top, BW, hpx)
            style(ax, TICK_B, tl=1.5)
            ax.axvspan(12.5, 18, color='#dcf2fa', lw=0, zorder=0)
            cm, cs, km, ks = data[(meas, g)]
            lc, fc, al = GENO[g]
            band(ax, days, cm, cs, C_BLACK, C_BLACK_F, 0.75, LW_B)
            band(ax, days, km, ks, lc, fc, al, LW_B)
            ax.set_xlim(1, 18)
            ax.set_ylim(y0, y1)
            ax.set_xticks(range(1, 18, 2))
            ax.set_yticks(np.arange(y0, y1 + ys / 10, ys))
            ax.yaxis.set_major_formatter(FormatStrFormatter('%g'))
            if (meas, g) in stars:
                bracket(ax, hpx)
            if r == 0:
                hs = [Line2D([0], [0], color=C_BLACK, lw=1.0),
                      Line2D([0], [0], color=lc, lw=1.0)]
                ax.legend(hs, ['Control', ko_names[g]], loc='upper left',
                          bbox_to_anchor=(0.0, 1.09), frameon=False, borderpad=0,
                          borderaxespad=0, handlelength=2.2, handletextpad=0.2,
                          labelspacing=-0.05, fontsize=7.3)


draw_block(cols_b, b_data, b_ylims, b_stars)
draw_block(cols_c, c_data, c_ylims, c_stars)

for r in range(3):
    top, hpx = rows_bc[r]
    ftext(19, top + hpx / 2, b_labels[r], rotation=90, ha='center', va='center',
          fontsize=9, linespacing=1.15)
    ftext(429, top + hpx / 2, c_labels[r], rotation=90, ha='center', va='center',
          fontsize=9, linespacing=1.15)

ftext(220, 702, 'Days of Training', ha='center', va='center', fontsize=9.5)
ftext(634, 702, 'Days of Training', ha='center', va='center', fontsize=9.5)
ftext(6, 376, 'b', ha='center', va='center', fontsize=11)
ftext(411, 376, 'c', ha='center', va='center', fontsize=11)

fig.savefig('out.png', dpi=100)
